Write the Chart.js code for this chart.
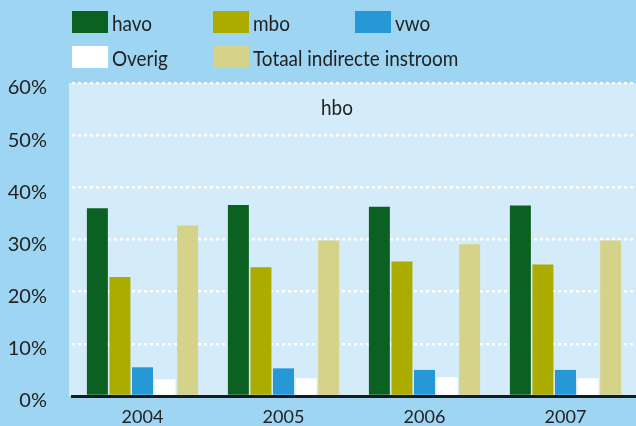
<!DOCTYPE html>
<html><head><meta charset="utf-8">
<script src="https://cdn.jsdelivr.net/npm/chart.js@4/dist/chart.umd.min.js"></script>
<style>html,body{margin:0;padding:0;background:#9ed5f3;}#c{display:block;}</style>
</head><body>
<canvas id="c" width="636" height="426"></canvas>
<script>
const categories = ['2004','2005','2006','2007'];
const seriesNames = ['havo','mbo','vwo','Overig','Totaal indirecte instroom'];
const havo = [36.0, 36.6, 36.3, 36.5];
const mbo = [22.8, 24.7, 25.8, 25.2];
const vwo = [5.5, 5.3, 5.0, 5.0];
const overig = [3.2, 3.4, 3.6, 3.4];
const totaal = [32.7, 29.8, 29.1, 29.8];
const yTicks = [0,10,20,30,40,50,60];
const colors = ['#0b6121','#abab00','#2698d6','#ffffff','#d5d38a'];
const chartTitle = 'hbo';
const FONT = "Lato, 'Noto Sans', sans-serif";

function condensedText(ctx, text, x, y, sx){
  ctx.save();
  ctx.translate(x, y);
  ctx.scale(sx, 1);
  ctx.fillText(text, 0, 0);
  ctx.restore();
}

const bgPlugin = {
  id:'bg',
  beforeDraw(chart){
    const {ctx, chartArea:a} = chart;
    ctx.save();
    ctx.fillStyle = '#9ed5f3';
    ctx.fillRect(0,0,chart.width,chart.height);
    ctx.fillStyle = '#d4ebfa';
    ctx.fillRect(a.left-3, a.top, a.right-a.left+3, a.bottom-a.top);
    ctx.restore();
  },
  afterDraw(chart){
    const {ctx} = chart;
    ctx.save();
    ctx.fillStyle = '#222';
    ctx.font = '22px ' + FONT;
    ctx.textAlign = 'left';
    ctx.textBaseline = 'alphabetic';
    condensedText(ctx, chartTitle, 321, 115, 0.86);
    // legend
    const pos = [[72,11],[213,11],[355,11],[72,46],[213,46]];
    chart.data.datasets.forEach((ds,i)=>{
      const [x,y] = pos[i];
      ctx.fillStyle = ds.backgroundColor;
      ctx.fillRect(x,y,36,22);
      ctx.fillStyle = '#222';
      condensedText(ctx, ds.label, x+40, y+20, 0.86);
    });
    ctx.restore();
  }
};

new Chart(document.getElementById('c'), {
  type:'bar',
  data:{
    labels: categories,
    datasets: [havo,mbo,vwo,overig,totaal].map((d,i)=>({
      label: seriesNames[i], data: d, backgroundColor: colors[i], borderWidth:0
    }))
  },
  options:{
    responsive:false,
    animation:false,
    devicePixelRatio:1,
    layout:{padding:{top:83,right:0,left:0,bottom:0}},
    categoryPercentage:0.8,
    barPercentage:0.93,
    plugins:{legend:{display:false}, tooltip:{enabled:false}, title:{display:false}},
    scales:{
      x:{
        grid:{display:false},
        border:{display:true,color:'#1a1a1a',width:3},
        ticks:{color:'#222',font:{family:FONT,size:18},padding:2},
        afterFit(s){ s.height = 30; s.paddingLeft = 0; s.paddingRight = 0; }
      },
      y:{
        min:0,max:60,
        afterBuildTicks(s){ s.ticks = yTicks.map(v=>({value:v})); },
        grid:{color:'#ffffff',lineWidth:2.5,drawTicks:false},
        border:{display:false,dash:[3,3]},
        ticks:{color:'#222',font:{family:FONT,size:20},padding:25,labelOffset:5,callback:v=>v+'%'},
        afterFit(s){ s.width = 72; s.paddingTop = 0; s.paddingBottom = 0; }
      }
    }
  },
  plugins:[bgPlugin]
});
</script>
</body></html>
